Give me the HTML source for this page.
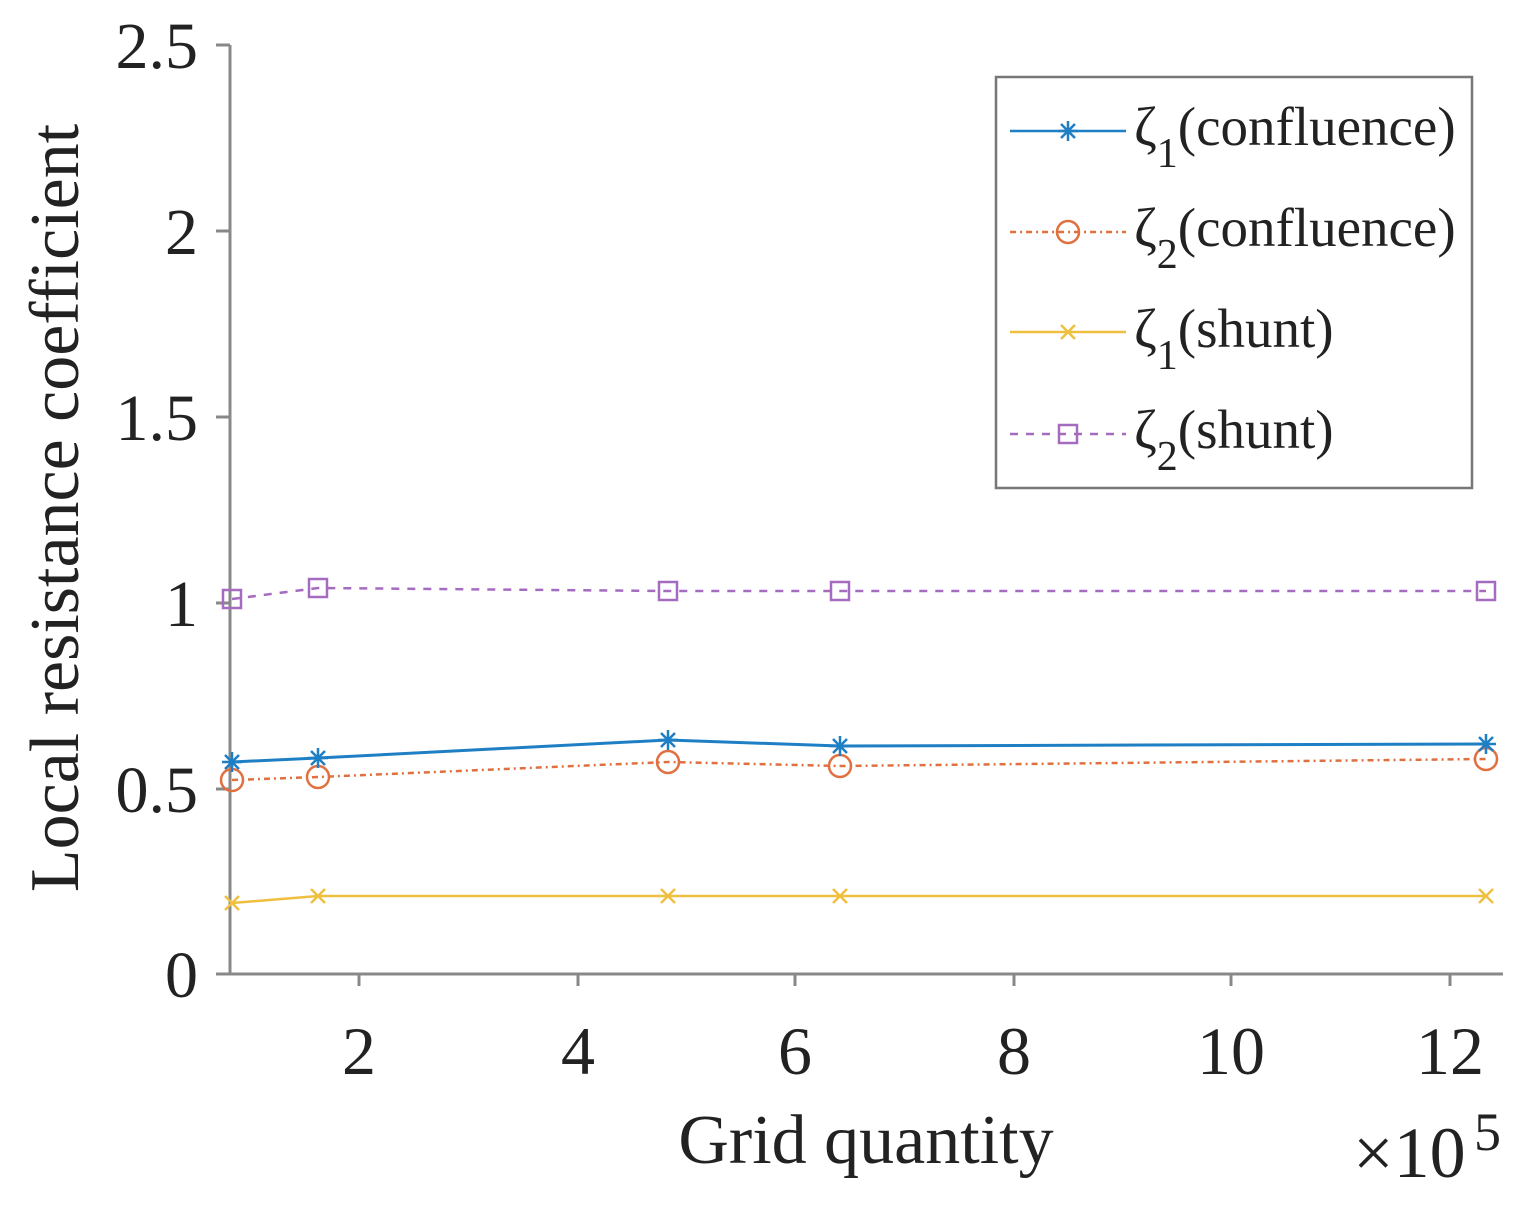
<!DOCTYPE html><html><head><style>body{margin:0;background:#fff}svg{display:block}</style></head><body>
<svg width="1525" height="1211" xmlns="http://www.w3.org/2000/svg" font-family="Liberation Serif, serif" fill="#222">
<g stroke="#888" stroke-width="3" fill="none">
<path d="M230,45 V974 H1503"/>
<path d="M216,45H230 M216,231H230 M216,417H230 M216,603H230 M216,789H230 M216,974H230"/>
<path d="M359,974V986 M578,974V986 M795,974V986 M1014,974V986 M1231,974V986 M1450,974V986"/>
</g>
<g font-size="66" text-anchor="end">
<text x="198" y="68">2.5</text><text x="198" y="254">2</text><text x="198" y="440">1.5</text>
<text x="198" y="626">1</text><text x="198" y="812">0.5</text><text x="198" y="997">0</text>
</g>
<g font-size="68" text-anchor="middle">
<text x="359" y="1074">2</text><text x="578" y="1074">4</text><text x="795" y="1074">6</text>
<text x="1014" y="1074">8</text><text x="1231" y="1074">10</text><text x="1450" y="1074">12</text>
<text x="866" y="1163" font-size="70">Grid quantity</text>
</g>
<text x="1353" y="1177" font-size="72">×10</text><text x="1474" y="1150" font-size="54">5</text>
<text transform="translate(78,508) rotate(-90)" font-size="70" text-anchor="middle">Local resistance coefficient</text>
<g fill="none" stroke-width="2.5">
<polyline stroke="#a56bbf" stroke-dasharray="8,8" points="232,599 318,588 668,591 840,591 1486,591"/>
<polyline stroke="#1f7fc4" stroke-width="3" points="232,762 318,758 668,740 840,746 1486,744"/>
<polyline stroke="#e07040" stroke-dasharray="6,4,2,4" points="232,780 318,777 668,762 840,766 1486,759"/>
<polyline stroke="#efc040" points="232,903 318,896 668,896 840,896 1486,896"/>
<g stroke="#a56bbf"><rect x="223" y="590" width="18" height="18"/><rect x="309" y="579" width="18" height="18"/><rect x="659" y="582" width="18" height="18"/><rect x="831" y="582" width="18" height="18"/><rect x="1477" y="582" width="18" height="18"/></g>
<g stroke="#e07040"><circle cx="232" cy="780" r="11"/><circle cx="318" cy="777" r="11"/><circle cx="668" cy="762" r="11"/><circle cx="840" cy="766" r="11"/><circle cx="1486" cy="759" r="11"/></g>
</g>
<g stroke="#1f7fc4" stroke-width="2.5" fill="none">
<path d="M222,762h20M232,752v20M225,755l14,14M239,755l-14,14"/>
<path d="M308,758h20M318,748v20M311,751l14,14M325,751l-14,14"/>
<path d="M658,740h20M668,730v20M661,733l14,14M675,733l-14,14"/>
<path d="M830,746h20M840,736v20M833,739l14,14M847,739l-14,14"/>
<path d="M1476,744h20M1486,734v20M1479,737l14,14M1493,737l-14,14"/>
</g>
<g stroke="#efc040" stroke-width="2.5">
<path d="M225,896l14,14M239,896l-14,14"/><path d="M311,889l14,14M325,889l-14,14"/>
<path d="M661,889l14,14M675,889l-14,14"/><path d="M833,889l14,14M847,889l-14,14"/>
<path d="M1479,889l14,14M1493,889l-14,14"/>
</g>
<rect x="996" y="77" width="476" height="411" fill="#fff" stroke="#777" stroke-width="2.5"/>
<g fill="none" stroke-width="2.5">
<line x1="1010" y1="131" x2="1126" y2="131" stroke="#1f7fc4"/>
<path d="M1058,131h20M1068,121v20M1061,124l14,14M1075,124l-14,14" stroke="#1f7fc4"/>
<line x1="1010" y1="232" x2="1126" y2="232" stroke="#e07040" stroke-dasharray="6,4,2,4"/>
<circle cx="1068" cy="232" r="11" stroke="#e07040"/>
<line x1="1010" y1="332" x2="1126" y2="332" stroke="#efc040"/>
<path d="M1061,325l14,14M1075,325l-14,14" stroke="#efc040"/>
<line x1="1010" y1="434" x2="1126" y2="434" stroke="#a56bbf" stroke-dasharray="8,8"/>
<rect x="1059" y="425" width="18" height="18" stroke="#a56bbf"/>
</g>
<g font-size="55">
<text x="1134" y="145">ζ<tspan font-size="42" dy="22">1</tspan><tspan dy="-22">(confluence)</tspan></text>
<text x="1134" y="246">ζ<tspan font-size="42" dy="22">2</tspan><tspan dy="-22">(confluence)</tspan></text>
<text x="1134" y="347">ζ<tspan font-size="42" dy="22">1</tspan><tspan dy="-22">(shunt)</tspan></text>
<text x="1134" y="448">ζ<tspan font-size="42" dy="22">2</tspan><tspan dy="-22">(shunt)</tspan></text>
</g>
</svg>
</body></html>
